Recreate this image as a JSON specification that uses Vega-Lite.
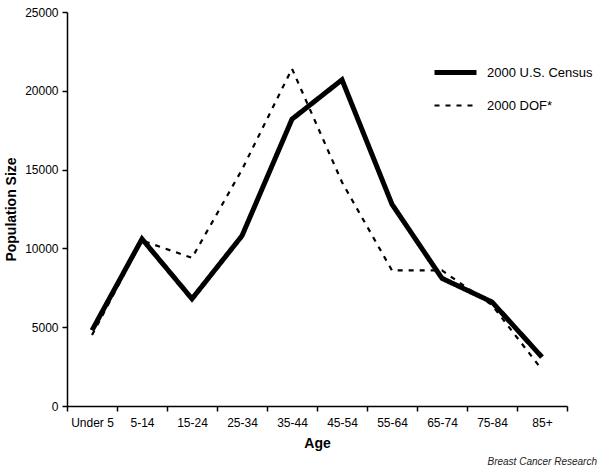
{
  "$schema": "https://vega.github.io/schema/vega-lite/v6.json",
  "width": 500,
  "height": 394,
  "autosize": "none",
  "padding": {"left": 67, "top": 12, "right": 33, "bottom": 64},
  "background": "white",
  "config": {
    "font": "Liberation Sans",
    "view": {"stroke": null},
    "axis": {"grid": false, "domainColor": "black", "tickColor": "black", "domainWidth": 1.5, "tickWidth": 1.5, "labelColor": "black", "titleColor": "black", "labelFontSize": 12, "titleFontSize": 14, "titleFontWeight": "bold", "labelFont": "Liberation Sans", "titleFont": "Liberation Sans"}
  },
  "title": {"text": "Breast Cancer Research", "orient": "bottom", "anchor": "end", "frame": "group", "fontSize": 10, "fontStyle": "italic", "fontWeight": "normal", "color": "#222", "dx": 30, "offset": 7, "font": "Liberation Sans"},
  "data": {"values": [
    {"age": "Under 5", "series": "2000 U.S. Census", "pop": 4800},
    {"age": "5-14", "series": "2000 U.S. Census", "pop": 10600},
    {"age": "15-24", "series": "2000 U.S. Census", "pop": 6800},
    {"age": "25-34", "series": "2000 U.S. Census", "pop": 10800},
    {"age": "35-44", "series": "2000 U.S. Census", "pop": 18200},
    {"age": "45-54", "series": "2000 U.S. Census", "pop": 20700},
    {"age": "55-64", "series": "2000 U.S. Census", "pop": 12800},
    {"age": "65-74", "series": "2000 U.S. Census", "pop": 8100},
    {"age": "75-84", "series": "2000 U.S. Census", "pop": 6600},
    {"age": "85+", "series": "2000 U.S. Census", "pop": 3100},
    {"age": "Under 5", "series": "2000 DOF*", "pop": 4500},
    {"age": "5-14", "series": "2000 DOF*", "pop": 10500},
    {"age": "15-24", "series": "2000 DOF*", "pop": 9400},
    {"age": "25-34", "series": "2000 DOF*", "pop": 15000},
    {"age": "35-44", "series": "2000 DOF*", "pop": 21400},
    {"age": "45-54", "series": "2000 DOF*", "pop": 14200},
    {"age": "55-64", "series": "2000 DOF*", "pop": 8600},
    {"age": "65-74", "series": "2000 DOF*", "pop": 8600},
    {"age": "75-84", "series": "2000 DOF*", "pop": 6400},
    {"age": "85+", "series": "2000 DOF*", "pop": 2300}
  ]},
  "mark": {"type": "line", "color": "black", "strokeJoin": "miter"},
  "encoding": {
    "x": {
      "field": "age", "type": "ordinal", "sort": null, "bandPosition": 0.5,
      "scale": {"type": "band", "paddingInner": 0, "paddingOuter": 0},
      "axis": {"title": "Age", "labelAngle": 0, "tickBand": "extent", "tickSize": 5, "labelPadding": 6, "titlePadding": 8}
    },
    "y": {
      "field": "pop", "type": "quantitative",
      "scale": {"domain": [0, 25000]},
      "axis": {"title": "Population Size", "values": [0, 5000, 10000, 15000, 20000, 25000], "format": "d", "tickSize": 5, "labelPadding": 4, "titlePadding": 6}
    },
    "strokeWidth": {
      "field": "series", "type": "nominal",
      "scale": {"domain": ["2000 U.S. Census", "2000 DOF*"], "range": [5, 2.2]},
      "legend": {"title": null, "orient": "none", "legendX": 365, "legendY": 37, "symbolType": "stroke", "symbolSize": 1764, "symbolStrokeColor": "black", "labelFontSize": 13, "labelColor": "black", "rowPadding": -11, "labelOffset": 8}
    },
    "strokeDash": {
      "field": "series", "type": "nominal",
      "scale": {"domain": ["2000 U.S. Census", "2000 DOF*"], "range": [[1, 0], [5, 6]]},
      "legend": {"title": null, "orient": "none", "legendX": 365, "legendY": 37, "symbolType": "stroke", "symbolSize": 1764, "symbolStrokeColor": "black", "labelFontSize": 13, "labelColor": "black", "rowPadding": -11, "labelOffset": 8}
    }
  }
}
